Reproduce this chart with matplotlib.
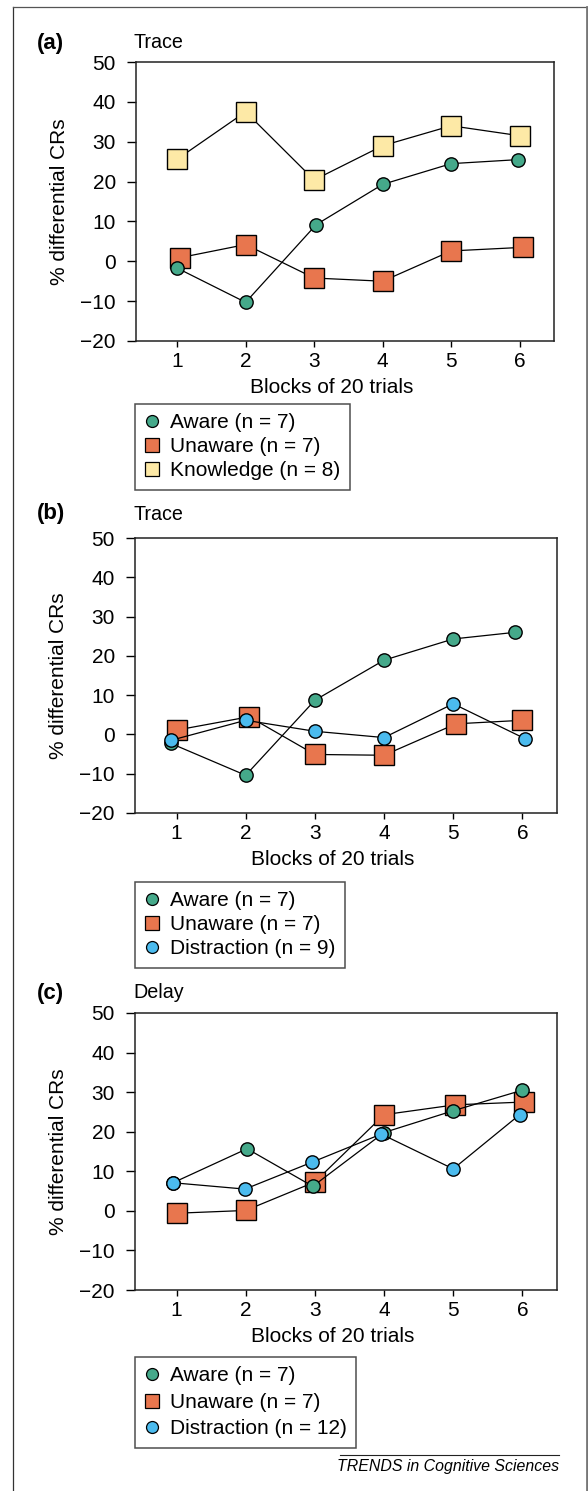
import matplotlib
matplotlib.use("Agg")
import matplotlib.pyplot as plt
from matplotlib.lines import Line2D
import numpy as np

plt.rcParams['font.family'] = ['Liberation Sans', 'DejaVu Sans']

# 数据：每个面板 6 个区组
blocks = np.array([1, 2, 3, 4, 5, 6])

# (a) Trace
a_aware = [-1.7, -10.3, 9.2, 19.3, 24.5, 25.5]
a_unaware = [0.9, 4.2, -4.2, -5.0, 2.6, 3.5]
a_knowledge = [25.6, 37.5, 20.4, 29.0, 34.0, 31.5]
a_aware_dx = [0, 0, 0.03, 0, 0, -0.03]
a_unaware_dx = [0.04, 0, 0, 0, 0, 0.05]
a_knowledge_dx = [0, 0, 0, 0, 0, 0]

# (b) Trace
b_aware = [-2.3, -10.4, 8.7, 18.9, 24.3, 26.0]
b_unaware = [1.1, 4.5, -5.1, -5.3, 2.7, 3.6]
b_distraction = [-1.5, 3.6, 0.8, -0.8, 7.8, -1.1]
b_aware_dx = [-0.08, 0, 0, 0, 0, -0.1]
b_unaware_dx = [0, 0.05, 0, 0, 0.04, 0]
b_distraction_dx = [-0.08, 0, 0, 0, 0, 0.04]

# (c) Delay
c_aware = [7.1, 15.7, 6.2, 19.8, 25.3, 30.5]
c_unaware = [-0.6, 0.1, 7.3, 24.3, 26.8, 27.5]
c_distraction = [7.1, 5.5, 12.3, 19.4, 10.6, 24.3]
c_aware_dx = [-0.05, 0.02, -0.03, 0, 0, 0]
c_unaware_dx = [0, 0, 0, 0, 0.03, 0.02]
c_distraction_dx = [-0.05, -0.01, -0.04, -0.04, 0, -0.04]

GREEN = '#45a98a'
ORANGE = '#e8764e'
YELLOW = '#fde9a6'
BLUE = '#4bbbee'

W, H = 588, 1491
FS = 15

fig = plt.figure(figsize=(W / 100, H / 100), dpi=100)


def fx(px):
    return px / W


def fy(py):
    return 1 - py / H


def make_axes(left, right, top, bottom):
    ax = fig.add_axes([fx(left), fy(bottom), fx(right - left), (bottom - top) / H])
    ax.set_xlim(0.4, 6.5)
    ax.set_ylim(-20, 50)
    ax.set_xticks(blocks)
    ax.set_yticks(range(-20, 51, 10))
    ax.set_yticklabels([str(v).replace('-', '\u2212') for v in range(-20, 51, 10)])
    ax.tick_params(axis='y', direction='out', length=6.5, width=1, pad=8, labelsize=FS)
    ax.tick_params(axis='x', direction='out', length=4.3, width=1, pad=3.5, labelsize=FS)
    for s in ax.spines.values():
        s.set_linewidth(1.1)
        s.set_color('#222222')
    ax.set_xlabel('Blocks of 20 trials', fontsize=FS)
    ax.xaxis.set_label_coords(0.469, -0.168)
    ax.xaxis.label.set_va('center')
    ax.set_ylabel('% differential CRs', fontsize=FS)
    ax.yaxis.set_label_coords(-0.182, 0.5)
    ax.yaxis.label.set_va('center')
    return ax


def series(ax, y, dx, color, marker, ms):
    ax.plot(blocks + np.array(dx), y, color='black', lw=0.9, marker=marker,
            markersize=ms, markerfacecolor=color, markeredgecolor='black',
            markeredgewidth=1.0, clip_on=False)


def legend(labels, colors, markers, left, top, spacing):
    handles = []
    for c, m in zip(colors, markers):
        ms = 10 if m == 's' else 8.6
        handles.append(Line2D([], [], ls='none', marker=m, markersize=ms,
                              markerfacecolor=c, markeredgecolor='black',
                              markeredgewidth=0.9))
    leg = fig.legend(handles, labels, loc='upper left',
                     bbox_to_anchor=(fx(left), fy(top)), borderaxespad=0,
                     fontsize=FS, frameon=True, fancybox=False,
                     handlelength=0.7, handletextpad=0.53, borderpad=0.45,
                     labelspacing=spacing)
    leg.get_frame().set_edgecolor('#222222')
    leg.get_frame().set_linewidth(1.1)


def panel_title(letter, name, y):
    fig.text(fx(37), fy(y), letter, fontsize=16, fontweight='bold', va='center', ha='left')
    fig.text(fx(133), fy(y), name, fontsize=14.2, va='center', ha='left')


# (a)
ax_a = make_axes(136, 554, 62, 341)
series(ax_a, a_unaware, a_unaware_dx, ORANGE, 's', 15)
series(ax_a, a_aware, a_aware_dx, GREEN, 'o', 9.6)
series(ax_a, a_knowledge, a_knowledge_dx, YELLOW, 's', 15)
panel_title('(a)', 'Trace', 43)
legend(['Aware (n = 7)', 'Unaware (n = 7)', 'Knowledge (n = 8)'],
       [GREEN, ORANGE, YELLOW], ['o', 's', 's'], 135, 404, 0.24)

# (b)
ax_b = make_axes(135, 557, 538, 813)
series(ax_b, b_unaware, b_unaware_dx, ORANGE, 's', 15)
series(ax_b, b_aware, b_aware_dx, GREEN, 'o', 9.6)
series(ax_b, b_distraction, b_distraction_dx, BLUE, 'o', 9.6)
panel_title('(b)', 'Trace', 514)
legend(['Aware (n = 7)', 'Unaware (n = 7)', 'Distraction (n = 9)'],
       [GREEN, ORANGE, BLUE], ['o', 's', 'o'], 135, 882, 0.24)

# (c)
ax_c = make_axes(135, 557, 1013, 1290)
series(ax_c, c_unaware, c_unaware_dx, ORANGE, 's', 15)
series(ax_c, c_aware, c_aware_dx, GREEN, 'o', 9.6)
series(ax_c, c_distraction, c_distraction_dx, BLUE, 'o', 9.6)
panel_title('(c)', 'Delay', 993)
legend(['Aware (n = 7)', 'Unaware (n = 7)', 'Distraction (n = 12)'],
       [GREEN, ORANGE, BLUE], ['o', 's', 'o'], 135, 1357, 0.36)

# 外框与页脚
fig.add_artist(Line2D([fx(13), fx(13)], [fy(7), 0], color='#333333', lw=0.9))
fig.add_artist(Line2D([fx(13), 1], [fy(7), fy(7)], color='#555555', lw=0.9))
fig.add_artist(Line2D([fx(586.5), fx(586.5)], [fy(7), 0], color='#777777', lw=2.0))
fig.add_artist(Line2D([fx(340), fx(559)], [fy(1455), fy(1455)], color='#222222', lw=0.8))
fig.text(fx(559), fy(1467), 'TRENDS in Cognitive Sciences', fontsize=11.4,
         style='italic', ha='right', va='center')

fig.savefig('out.png', dpi=100)
